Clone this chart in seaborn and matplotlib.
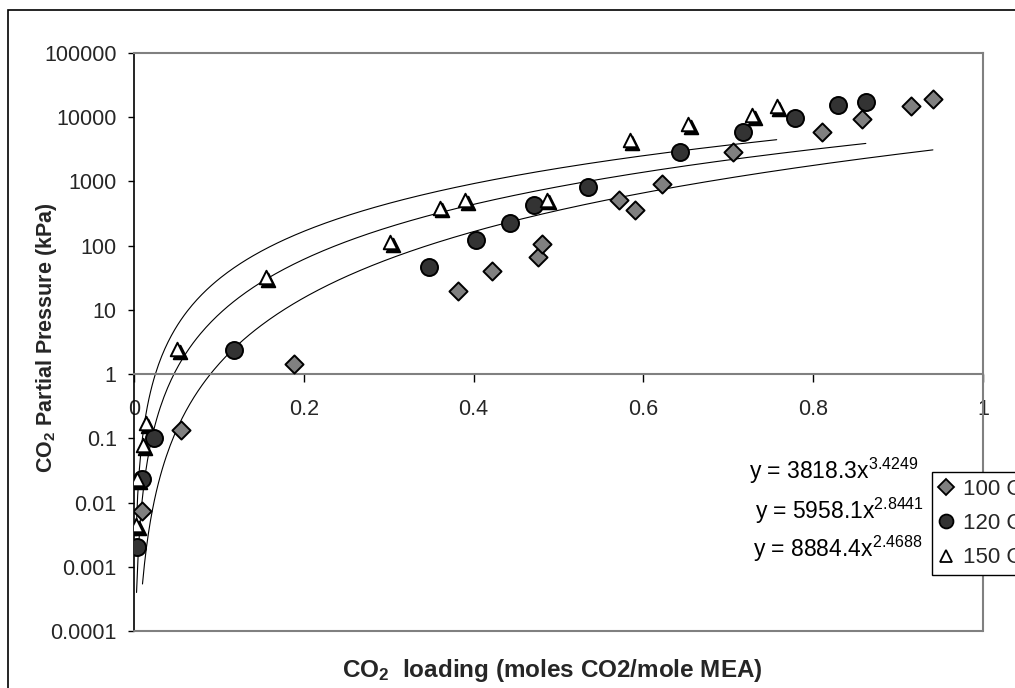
import numpy as np
import pandas as pd
import matplotlib
matplotlib.use("Agg")
import matplotlib.pyplot as plt
import seaborn as sns
from matplotlib.lines import Line2D
from matplotlib.patches import Rectangle
from matplotlib.ticker import FixedLocator, FixedFormatter, NullLocator
from matplotlib.transforms import ScaledTranslation

# ---------------- data ----------------
x_100 = [0.010, 0.055, 0.188, 0.382, 0.422, 0.476, 0.481, 0.571, 0.590, 0.622, 0.706, 0.810, 0.857, 0.915, 0.941]
y_100 = [0.0075, 0.135, 1.43, 19.6, 40, 66, 107, 508, 362, 900, 2900, 5940, 9370, 14900, 19200]

x_120 = [0.0030, 0.010, 0.0236, 0.118, 0.347, 0.403, 0.443, 0.471, 0.535, 0.643, 0.717, 0.779, 0.829, 0.862]
y_120 = [0.0020, 0.0229, 0.103, 2.37, 47, 122, 222, 429, 828, 2900, 5820, 9610, 15300, 17500]

x_150 = [0.0024, 0.004, 0.0102, 0.0138, 0.051, 0.155, 0.302, 0.360, 0.390, 0.486, 0.584, 0.653, 0.728, 0.757]
y_150 = [0.0044, 0.023, 0.078, 0.175, 2.42, 32.8, 115, 390, 514, 523, 4420, 7750, 10800, 14900]

series_labels = ["100 C", "120 C", "150 C"]
fit_coef = [3818.3, 5958.1, 8884.4]
fit_exp = [3.4249, 2.8441, 2.4688]
eq_labels = [r"y = 3818.3x$^{3.4249}$", r"y = 5958.1x$^{2.8441}$", r"y = 8884.4x$^{2.4688}$"]

y_ticks = [1e-4, 1e-3, 1e-2, 1e-1, 1, 10, 100, 1000, 10000, 100000]
y_tick_labels = ["0.0001", "0.001", "0.01", "0.1", "1", "10", "100", "1000", "10000", "100000"]
x_ticks = [0, 0.2, 0.4, 0.6, 0.8, 1.0]
x_tick_labels = ["0", "0.2", "0.4", "0.6", "0.8", "1"]

# ---------------- style ----------------
sns.set_theme(style="white")
plt.rcParams["font.family"] = ["Liberation Sans", "DejaVu Sans"]
plt.rcParams["mathtext.fontset"] = "custom"
plt.rcParams["mathtext.rm"] = "Liberation Sans"
plt.rcParams["mathtext.it"] = "Liberation Sans:italic"
plt.rcParams["mathtext.bf"] = "Liberation Sans:bold"

W, H = 1015, 688
fig = plt.figure(figsize=(W / 100, H / 100), dpi=100)
fig.patch.set_facecolor("white")

L, R, T, B = 134, 983, 53, 631
ax = fig.add_axes([L / W, 1 - B / H, (R - L) / W, (B - T) / H])
ax.set_facecolor("white")

GRAY = "#808080"
series = [
    (x_100, y_100, "D", "#808080", "black", 85),
    (x_120, y_120, "o", "#333333", "black", 150),
    (x_150, y_150, "^", "white", "black", 95),
]

# trendlines
for (xs, ys, *_), a, b in zip(series, fit_coef, fit_exp):
    xx = np.linspace(min(xs), max(xs), 400)
    sns.lineplot(x=xx, y=a * xx ** b, color="black", lw=0.8, ax=ax,
                 estimator=None, sort=False, legend=False)

# scatter points
for i, (xs, ys, mk, fc, ec, s) in enumerate(series):
    df = pd.DataFrame({"x": xs, "y": ys})
    if mk == "^":
        # black drop shadow behind the hollow triangles
        sns.scatterplot(data=df, x="x", y="y", marker=mk, s=s, color="black",
                        edgecolor="black", linewidth=1.4, ax=ax, legend=False, zorder=3)
        ax.collections[-1].set_offset_transform(
            ax.transData + ScaledTranslation(1.8 / 72, -2.0 / 72, fig.dpi_scale_trans))
    sns.scatterplot(data=df, x="x", y="y", marker=mk, s=s, color=fc,
                    edgecolor=ec, linewidth=1.4, ax=ax, legend=False, zorder=4)

ax.set_yscale("log")
ax.set_xlim(0, 1)
ax.set_ylim(1e-4, 1e5)

ax.yaxis.set_major_locator(FixedLocator(y_ticks))
ax.yaxis.set_major_formatter(FixedFormatter(y_tick_labels))
ax.yaxis.set_minor_locator(NullLocator())
ax.xaxis.set_major_locator(FixedLocator(x_ticks))
ax.xaxis.set_major_formatter(FixedFormatter(x_tick_labels))
ax.xaxis.set_minor_locator(NullLocator())

ax.tick_params(axis="y", which="major", direction="out", length=4.5, width=1,
               color="black", labelsize=15.5, pad=8, left=True)
ax.tick_params(axis="x", which="major", direction="out", length=6, width=1,
               color="black", labelsize=15.5, pad=12, bottom=True)

# spines
ax.spines["bottom"].set_position(("data", 1))
ax.spines["bottom"].set_color(GRAY)
ax.spines["bottom"].set_linewidth(1.5)
ax.spines["left"].set_color("black")
ax.spines["left"].set_linewidth(1.2)
for s in ("top", "right"):
    ax.spines[s].set_color(GRAY)
    ax.spines[s].set_linewidth(1.5)
ax.plot([0, 1], [0, 0], transform=ax.transAxes, color=GRAY, lw=1.5, clip_on=False, zorder=5)

# axis labels
ax.set_xlabel(r"CO$_\mathbf{2}$  loading (moles CO2/mole MEA)", fontsize=17.5,
              fontweight="bold", va="center")
ax.xaxis.set_label_coords((552 - L) / (R - L), -(670 - B) / (B - T))
ax.set_ylabel(r"CO$_\mathbf{2}$ Partial Pressure (kPa)", fontsize=15.5,
              fontweight="bold", va="center")
ax.yaxis.set_label_coords(-(L - 47) / (R - L), (B - 338) / (B - T))

# equations
eq_pos = [(749, 479), (755, 519), (753, 557)]
for (px, py), txt in zip(eq_pos, eq_labels):
    fig.text(px / W, 1 - py / H, txt, fontsize=16.5, ha="left", va="baseline", color="black")

# legend
handles = [
    Line2D([], [], marker="D", ls="", markersize=8.5, markerfacecolor="#808080",
           markeredgecolor="black", markeredgewidth=1.3),
    Line2D([], [], marker="o", ls="", markersize=10, markerfacecolor="#333333",
           markeredgecolor="black", markeredgewidth=1.3),
    Line2D([], [], marker="^", ls="", markersize=8, markerfacecolor="white",
           markeredgecolor="black", markeredgewidth=1.3),
]
leg = fig.legend(handles, series_labels, loc="upper left",
                 bbox_to_anchor=(932 / W, 1 - 472 / H), bbox_transform=fig.transFigure,
                 fontsize=16, frameon=True, fancybox=False, framealpha=1,
                 edgecolor="black", handlelength=0.7, handletextpad=0.4,
                 borderpad=0.3, labelspacing=0.6, borderaxespad=0)
leg.get_frame().set_linewidth(1.0)
leg.set_zorder(10)

# outer chart border (extends past the right/bottom edges as in the reference)
fig.add_artist(Rectangle((8 / W, -0.5), 2.0, (1 - 10 / H) + 0.5, transform=fig.transFigure,
                         fill=False, edgecolor="black", lw=1.2))

fig.savefig("out.png", dpi=100)
